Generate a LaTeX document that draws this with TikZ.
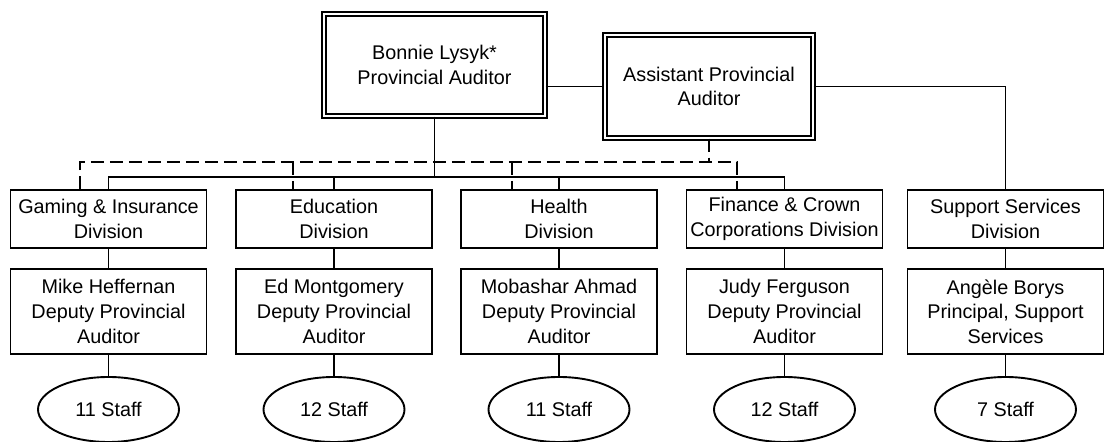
\documentclass[tikz,border=0pt]{standalone}
\usepackage{fontspec}
\setmainfont{Liberation Sans}
\usetikzlibrary{positioning,
                shapes.geometric
            }

\begin{document}
\begin{tikzpicture}[x=0.5pt, y=-0.5pt,
        textfont/.style={font=\fontsize{9.9}{12.3}\selectfont},
        topbox/.style={draw, double, line width=0.7pt, double distance=1.3pt, align=center, inner sep=0pt, textfont},
        unitbox/.style={draw, line width=0.95pt, minimum width=98pt, align=center, inner sep=0pt, textfont},
        divbox/.style={unitbox, minimum height=29pt},
        deputybox/.style={unitbox, minimum height=42.5pt},
        staffoval/.style={draw, ellipse, line width=0.95pt, minimum width=70.5pt, minimum height=32.5pt, inner sep=0pt, textfont},
        link/.style={line width=0.95pt},
        dashlink/.style={line width=0.95pt, dash pattern=on 6.5pt off 3pt}
    ]
            \useasboundingbox (0,0) rectangle (1104,442);
            % top of the chart
            \node[topbox, minimum width=110.5pt, minimum height=51pt] (auditor) at (434.5, 65) {Bonnie Lysyk*\\Provincial Auditor};
            \node[topbox, minimum width=104pt, minimum height=51.5pt] (assistant) at (709, 86.5) {Assistant Provincial\\Auditor};

            % divisions
            \node[divbox] (gaming) at (108.5, 219) {Gaming \& Insurance\\Division};
            \node[divbox] (education) at (334, 219) {Education\\Division};
            \node[divbox] (health) at (559, 219) {Health\\Division};
            \node[divbox] (finance) at (784.5, 219) {Finance \& Crown\\Corporations Division};
            \node[divbox] (support) at (1005.5, 219) {Support Services\\Division};

            % deputies
            \node[deputybox] (gamingdep) at (108.5, 311.5) {Mike Heffernan\\Deputy Provincial\\Auditor};
            \node[deputybox] (educationdep) at (334, 311.5) {Ed Montgomery\\Deputy Provincial\\Auditor};
            \node[deputybox] (healthdep) at (559, 311.5) {Mobashar Ahmad\\Deputy Provincial\\Auditor};
            \node[deputybox] (financedep) at (784.5, 311.5) {Judy Ferguson\\Deputy Provincial\\Auditor};
            \node[deputybox] (supportdep) at (1005.5, 311.5) {Angèle Borys\\Principal, Support\\Services};

            % staff
            \node[staffoval] (gamingstaff) at (108.5, 409.5) {11 Staff};
            \node[staffoval] (educationstaff) at (334, 409.5) {12 Staff};
            \node[staffoval] (healthstaff) at (559, 409.5) {11 Staff};
            \node[staffoval] (financestaff) at (784.5, 409.5) {12 Staff};
            \node[staffoval] (supportstaff) at (1005.5, 409.5) {7 Staff};

            \coordinate (bus) at (0, 177);
            \coordinate (gamingtick) at (80, 162);
            \coordinate (educationtick) at (293, 162);
            \coordinate (healthtick) at (512, 162);
            \coordinate (financetick) at (737, 162);

            \draw[link] (auditor.east |- assistant.west) -- (assistant.west);
            \draw[link] (assistant.east) -| (support.north);
            \draw[link] (auditor.south) -- (auditor.south |- bus);
            \draw[link] (gaming.north) -- (gaming.north |- bus) -- (finance.north |- bus) -- (finance.north);
            \foreach \d in {education, health}
                \draw[link] (\d.north) -- (\d.north |- bus);

            \draw[dashlink] (assistant.south) -- (assistant.south |- financetick);
            \draw[dashlink] (gaming.north -| gamingtick) -- (gamingtick) -- (financetick) -- (finance.north -| financetick);
            \foreach \d in {education, health}
                \draw[dashlink] (\d tick) -- (\d.north -| \d tick);

            \foreach \d in {gaming, education, health, finance, support} {
                \draw[link] (\d.south) -- (\d dep.north);
                \draw[link] (\d dep.south) -- (\d staff.north);
            }
        \end{tikzpicture}
\end{document}
